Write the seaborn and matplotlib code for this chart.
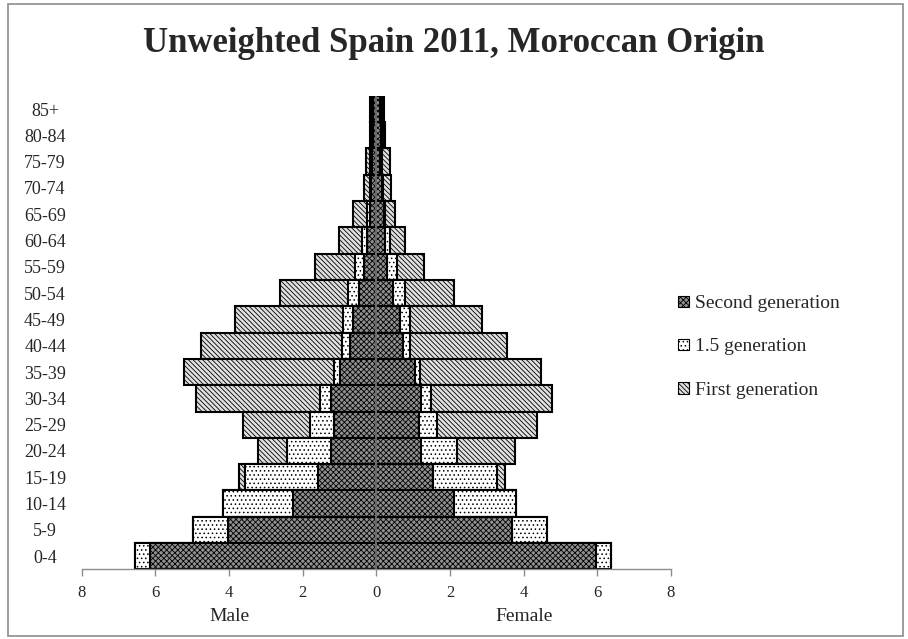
import matplotlib
matplotlib.use("Agg")
import numpy as np
import seaborn as sns
import matplotlib.pyplot as plt
import matplotlib.transforms as mtransforms
from matplotlib.patches import Patch, Rectangle

# age groups, bottom to top
ages = ['0-4', '5-9', '10-14', '15-19', '20-24', '25-29', '30-34', '35-39', '40-44',
        '45-49', '50-54', '55-59', '60-64', '65-69', '70-74', '75-79', '80-84', '85+']

# percent of population
male_second = [6.14, 4.03, 2.26, 1.59, 1.23, 1.16, 1.23, 0.99, 0.72,
               0.64, 0.48, 0.34, 0.25, 0.18, 0.15, 0.12, 0.08, 0.10]
male_half = [0.41, 0.95, 1.90, 1.98, 1.19, 0.65, 0.31, 0.15, 0.22,
             0.26, 0.28, 0.23, 0.14, 0.07, 0.03, 0.04, 0.03, 0.03]
male_first = [0.00, 0.00, 0.00, 0.17, 0.80, 1.81, 3.37, 4.09, 3.81,
              2.94, 1.86, 1.10, 0.62, 0.38, 0.16, 0.11, 0.07, 0.05]

female_second = [5.96, 3.69, 2.11, 1.54, 1.21, 1.17, 1.20, 1.04, 0.72,
                 0.65, 0.45, 0.29, 0.24, 0.20, 0.15, 0.11, 0.12, 0.10]
female_half = [0.40, 0.94, 1.67, 1.73, 0.99, 0.48, 0.29, 0.15, 0.18,
               0.25, 0.32, 0.27, 0.12, 0.04, 0.03, 0.05, 0.05, 0.04]
female_first = [0.00, 0.00, 0.00, 0.23, 1.57, 2.70, 3.28, 3.27, 2.64,
                1.98, 1.34, 0.73, 0.43, 0.26, 0.23, 0.20, 0.07, 0.06]

series = ['Second generation', '1.5 generation', 'First generation']
xticks = [-8, -6, -4, -2, 0, 2, 4, 6, 8]

sns.set_theme(style="white")
plt.rcParams['font.family'] = ['Liberation Serif', 'DejaVu Serif']
plt.rcParams['hatch.linewidth'] = 0.6

styles = {
    'Second generation': dict(color='#909090', hatch='xxxxxx'),
    '1.5 generation': dict(color='white', hatch='....'),
    'First generation': dict(color='#e0e0e0', hatch='\\\\\\\\\\\\\\'),
}

fig = plt.figure(figsize=(9.08, 6.39), dpi=100)
ax = fig.add_axes([0.090, 0.109, 0.649, 0.741])

order = ages[::-1]
for sign, sec, half, first in [(-1, male_second, male_half, male_first),
                               (1, female_second, female_half, female_first)]:
    sec = np.array(sec)
    cum2 = sec + np.array(half)
    cum3 = cum2 + np.array(first)
    # widest bar first, narrower ones drawn over it -> stacked look
    for vals, name in [(cum3, 'First generation'), (cum2, '1.5 generation'), (sec, 'Second generation')]:
        st = styles[name]
        sns.barplot(x=sign * vals, y=ages, order=order, orient='h', width=1.0,
                    errorbar=None, saturation=1, color=st['color'], hatch=st['hatch'],
                    edgecolor='black', linewidth=1.5, ax=ax)

ax.axvline(0, color='#7f7f7f', lw=1.2, zorder=5)
ax.set_xlim(-8, 8)
ax.set_xticks(xticks)
ax.set_xticklabels([str(abs(t)) for t in xticks])
ax.set_xlabel('')
ax.set_ylabel('')

for s in ['top', 'right', 'left']:
    ax.spines[s].set_visible(False)
ax.spines['bottom'].set_color('#8c8c8c')
ax.spines['bottom'].set_linewidth(1.0)
ax.tick_params(axis='x', direction='out', length=5, width=1, color='#8c8c8c',
               labelsize=12, pad=6, bottom=True)
ax.tick_params(axis='y', length=0, pad=26.4, labelsize=13)
for lbl in ax.get_yticklabels():
    lbl.set_ha('center')

trans = mtransforms.blended_transform_factory(ax.transData, ax.transAxes)
ax.text(-4, -0.099, 'Male', transform=trans, ha='center', va='center', fontsize=14)
ax.text(4, -0.099, 'Female', transform=trans, ha='center', va='center', fontsize=14)

fig.text(0.5, 1 - 43 / 639, 'Unweighted Spain 2011, Moroccan Origin',
         ha='center', va='center', fontsize=25, fontweight='bold')

handles = [Patch(facecolor=styles[n]['color'], hatch=styles[n]['hatch'],
                 edgecolor='black', linewidth=0.8) for n in series]
fig.legend(handles, series, loc='center left', bbox_to_anchor=(678 / 908, 1 - 347 / 639),
           frameon=False, fontsize=14, handlelength=0.55, handleheight=0.55,
           handletextpad=0.3, labelspacing=1.35, borderpad=0, borderaxespad=0)

fig.patches.append(Rectangle((8 / 908, 3 / 639), 895 / 908, 632 / 639, transform=fig.transFigure,
                             fill=False, edgecolor='#8c8c8c', linewidth=1.2))

fig.savefig('out.png', dpi=100)
